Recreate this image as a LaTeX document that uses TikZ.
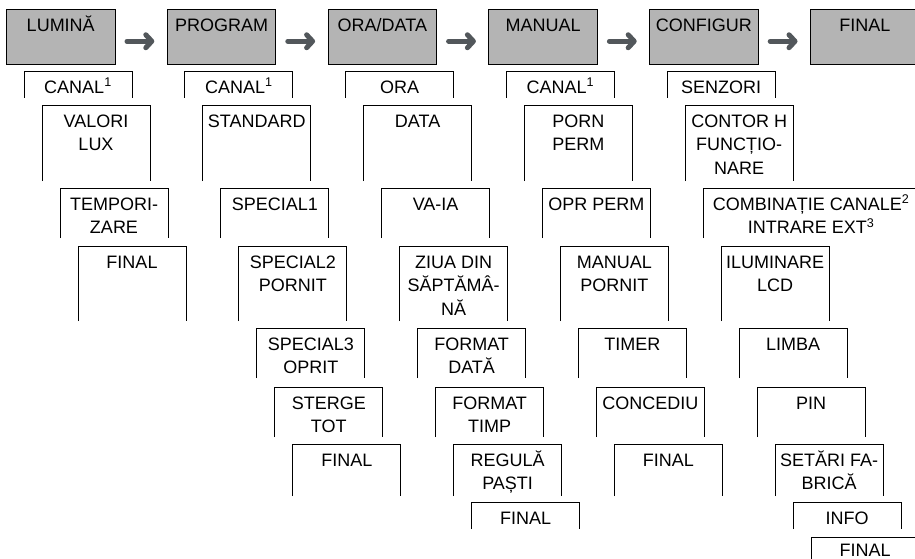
\documentclass[tikz,border=0pt]{standalone}
\usepackage{fontspec}
\setmainfont{Liberation Sans}
\usetikzlibrary{arrows.meta}
\definecolor{boxgray}{RGB}{180,180,180}
\definecolor{arrowgray}{RGB}{82,87,91}
\tikzset{
  frame/.style={draw=none, inner sep=0pt, outer sep=0pt, minimum width=108pt, anchor=north west},
  topbox/.style={draw=black, line width=0.9pt, fill=boxgray, inner sep=0pt, outer sep=0pt,
     minimum width=108.5pt, minimum height=54.5pt, anchor=north west},
  txt/.style={anchor=north, inner sep=0pt, align=center, font=\fontsize{18}{23.5}\selectfont},
  openbox/.style={draw=black, line width=0.8pt},
  bigarrow/.style={draw=arrowgray, line width=5pt, line cap=round,
     -{Straight Barb[length=6pt, width=13pt, round]}},
}
\newcommand{\subbox}[7][5]{% [text offset] name, x, top, height, text, width
  \node[frame, minimum width=#7pt, minimum height=#5pt] (#2) at (#3,#4) {};
  \draw[openbox] (#2.south west) -- (#2.north west) -- (#2.north east) -- (#2.south east);
  \node[txt] (#2t) at ([yshift=-#1pt]#2.north) {\rule{0pt}{17pt}#6};
}
\newcommand{\topbox}[3]{% name, x, text
  \node[topbox] (#1) at (#2,9.5) {};
  \node[txt] (#1t) at ([yshift=-5pt]#1.north) {\rule{0pt}{17pt}#3};
}
\begin{document}
\begin{tikzpicture}[x=1pt, y=-1pt]
\useasboundingbox (0,0) rectangle (915,559);
\clip (0,0) rectangle (915,559);
% top row
\topbox{g1}{6.5}{LUMINĂ}
\topbox{g2}{167.3}{PROGRAM}
\topbox{g3}{328.1}{ORA/DATA}
\topbox{g4}{488.9}{MANUAL}
\topbox{g5}{649.7}{CONFIGUR}
\topbox{g6}{810.5}{FINAL}
\foreach \a/\b in {g1/g2,g2/g3,g3/g4,g4/g5,g5/g6}{
  \draw[bigarrow] ([xshift=12pt,yshift=-4.5pt]\a.east) -- ([xshift=-13pt,yshift=-4.5pt]\b.west);
}
% column 1
\subbox{a1}{24}{71}{27}{CANAL\textsuperscript{1}}{108}
\subbox{a2}{42}{105}{76}{VALORI\\LUX}{108}
\subbox{a3}{60}{188}{50}{TEMPORI-\\ZARE}{108}
\subbox{a4}{78}{246}{75}{FINAL}{108}
% column 2
\subbox{b1}{184.8}{71}{27}{CANAL\textsuperscript{1}}{108}
\subbox{b2}{202.8}{105}{76}{STANDARD}{108}
\subbox{b3}{220.8}{188}{50}{SPECIAL1}{108}
\subbox{b4}{238.8}{246}{75}{SPECIAL2\\PORNIT}{108}
\subbox{b5}{256.8}{328}{50}{SPECIAL3\\OPRIT}{108}
\subbox{b6}{274.8}{387}{50}{STERGE\\TOT}{108}
\subbox{b7}{292.8}{444}{52}{FINAL}{108}
% column 3
\subbox{c1}{345.6}{71}{27}{ORA}{108}
\subbox{c2}{363.6}{105}{76}{DATA}{108}
\subbox{c3}{381.6}{188}{50}{VA-IA}{108}
\subbox{c4}{399.6}{246}{75}{ZIUA DIN\\SĂPTĂMÂ-\\NĂ}{108}
\subbox{c5}{417.6}{328}{50}{FORMAT\\DATĂ}{108}
\subbox{c6}{435.6}{387}{50}{FORMAT\\TIMP}{108}
\subbox{c7}{453.6}{444}{52}{REGULĂ\\PAȘTI}{108}
\subbox{c8}{471.6}{502}{27}{FINAL}{108}
% column 4
\subbox{d1}{506.4}{71}{27}{CANAL\textsuperscript{1}}{108}
\subbox{d2}{524.4}{105}{76}{PORN\\PERM}{108}
\subbox{d3}{542.4}{188}{50}{OPR PERM}{108}
\subbox{d4}{560.4}{246}{75}{MANUAL\\PORNIT}{108}
\subbox{d5}{578.4}{328}{50}{TIMER}{108}
\subbox{d6}{596.4}{387}{50}{CONCEDIU}{108}
\subbox{d7}{614.4}{444}{52}{FINAL}{108}
% column 5
\subbox{e1}{667.2}{71}{27}{SENZORI}{108}
\subbox{e2}{685.2}{105}{76}{CONTOR H\\FUNCȚIO-\\NARE}{108}
\subbox{e3}{703.2}{188}{50}{COMBINAȚIE CANALE\textsuperscript{2}\\INTRARE EXT\textsuperscript{3}}{216}
\subbox{e4}{721.2}{246}{75}{ILUMINARE\\LCD}{108}
\subbox{e5}{739.2}{328}{50}{LIMBA}{108}
\subbox{e6}{757.2}{387}{50}{PIN}{108}
\subbox{e7}{775.2}{444}{52}{SETĂRI FA-\\BRICĂ}{108}
\subbox{e8}{793.2}{502}{27}{INFO}{108}
\subbox[2.5]{e9}{811.2}{537}{40}{FINAL}{108}
\end{tikzpicture}
\end{document}
